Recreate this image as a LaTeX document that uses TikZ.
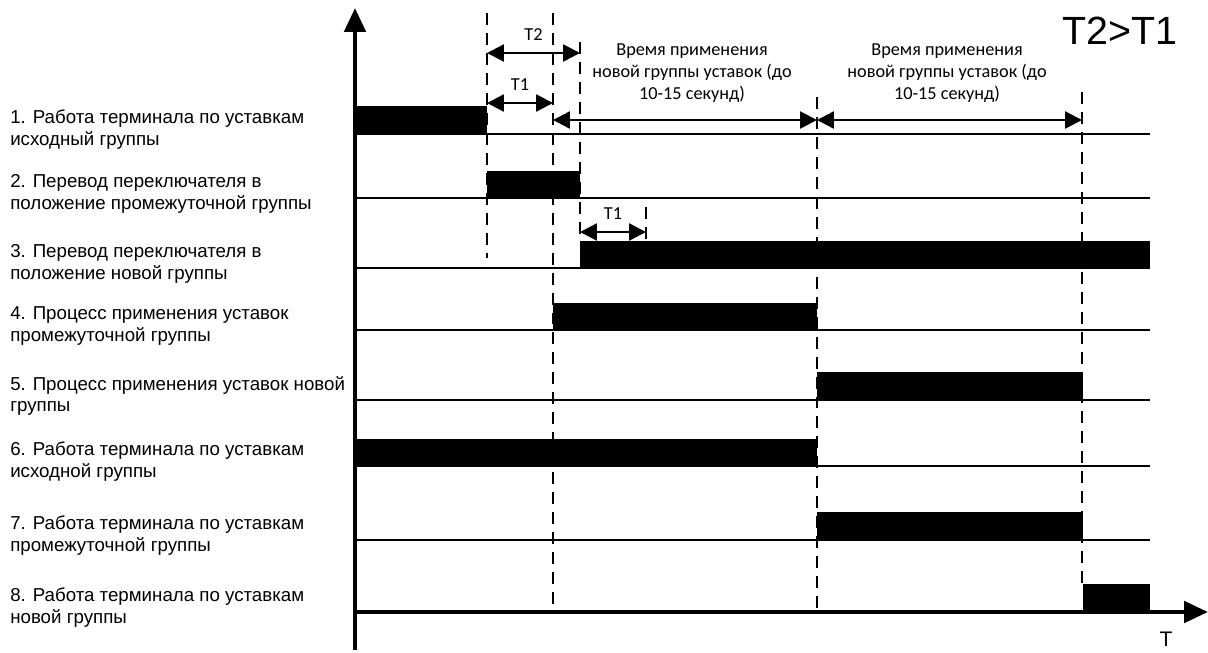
\documentclass[tikz,border=0pt]{standalone}
\usepackage{fontspec}
\setmainfont{Liberation Sans}
\newfontfamily\carl{Carlito}
\usetikzlibrary{arrows.meta}

\begin{document}
\begin{tikzpicture}[x=0.025cm, y=-0.025cm,
    rowline/.style={line width=1.5pt},
    axis/.style={line width=3.2pt, -{Triangle[length=17pt, width=15pt]}},
    guide/.style={line width=1.4pt, dash pattern=on 8.5pt off 5.7pt},
    span/.style={line width=1.8pt, {Triangle[length=12pt, width=12pt]}-{Triangle[length=12pt, width=12pt]}},
    rowlabel/.style={anchor=west, align=left, inner sep=0pt, font=\fontsize{13.3}{15.6}\selectfont},
    note/.style={align=center, inner sep=0pt, font=\carl\fontsize{13}{15.6}\selectfont}]
    \useasboundingbox (0,0) rectangle (1208,652);
    % rows: labels and time lines
    \foreach \y/\txt in {134/{1. Работа терминала по уставкам\\исходный группы},
                         198/{2. Перевод переключателя в\\положение промежуточной группы},
                         268/{3. Перевод переключателя в\\положение новой группы},
                         330/{4. Процесс применения уставок\\промежуточной группы},
                         400/{5. Процесс применения уставок новой\\группы},
                         466/{6. Работа терминала по уставкам\\исходной группы},
                         540/{7. Работа терминала по уставкам\\промежуточной группы},
                         612/{8. Работа терминала по уставкам\\новой группы}} {
        \node[rowlabel] at (10,\y-4) {\txt};
    }
    \foreach \y in {134,198,268,330,400,466,540}
        \draw[rowline] (355,\y) -- (1150,\y);
    % active states
    \fill (355,106) rectangle (487,134);
    \fill (487,171) rectangle (580,198);
    \fill (580,241) rectangle (1150,268);
    \fill (553,303) rectangle (817,330);
    \fill (817,372) rectangle (1083,400);
    \fill (355,439) rectangle (817,466);
    \fill (817,512) rectangle (1083,540);
    \fill (1083,584) rectangle (1150,612);
    % axes
    \draw[axis] (355,650) -- (355,8);
    \draw[axis] (355,612) -- (1208,612);
    \node[inner sep=0pt, font=\fontsize{15}{18}\selectfont] (tlabel) at (1166,639) {T};
    % time marks
    \draw[guide] (487,13) -- (487,258);
    \draw[guide] (553,13) -- (553,612);
    \draw[guide] (580,42) -- (580,241);
    \draw[guide] (646,207) -- (646,240);
    \draw[guide] (817,97) -- (817,612);
    \draw[guide] (1082,92) -- (1082,584);
    % intervals
    \draw[span] (487,53) -- (580,53) node[midway, above=5pt, font=\carl\fontsize{13}{15.6}\selectfont] {T2};
    \draw[span] (487,103) -- (553,103) node[midway, above=5pt, font=\carl\fontsize{13}{15.6}\selectfont] {T1};
    \draw[span] (580,232) -- (646,232) node[midway, above=5pt, font=\carl\fontsize{13}{15.6}\selectfont] {T1};
    \draw[span] (553,120) -- (817,120);
    \draw[span] (817,120) -- (1082,120);
    \node[note] at (692,73) {Время применения\\новой группы уставок (до\\10-15 секунд)};
    \node[note] at (947,73) {Время применения\\новой группы уставок (до\\10-15 секунд)};
    \node[font=\fontsize{28}{32}\selectfont, inner sep=0pt] at (1120,31) {T2>T1};
\end{tikzpicture}
\end{document}
